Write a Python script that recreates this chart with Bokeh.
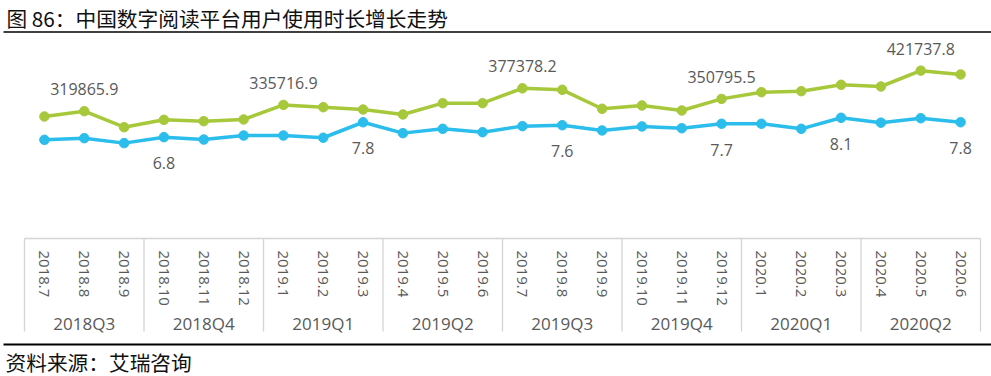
import math
from bokeh.plotting import figure
from bokeh.models import Range1d, ColumnDataSource
from bokeh.embed import file_html
from bokeh.resources import INLINE
from bokeh.core.properties import value

TITLE = "图 86：中国数字阅读平台用户使用时长增长走势"
SOURCE_NOTE = "资料来源：艾瑞咨询"

months = ["2018.7", "2018.8", "2018.9", "2018.10", "2018.11", "2018.12",
          "2019.1", "2019.2", "2019.3", "2019.4", "2019.5", "2019.6",
          "2019.7", "2019.8", "2019.9", "2019.10", "2019.11", "2019.12",
          "2020.1", "2020.2", "2020.3", "2020.4", "2020.5", "2020.6"]
quarters = ["2018Q3", "2018Q4", "2019Q1", "2019Q2",
            "2019Q3", "2019Q4", "2020Q1", "2020Q2"]

# total usage time (green) and per-capita usage (blue)
total_time = [306500, 319865.9, 279600, 298200, 294700, 299000,
              335716.9, 329900, 324100, 311600, 340000, 340000,
              377378.2, 373600, 325900, 334200, 321600, 350795.5,
              367600, 370100, 386200, 381900, 421737.8, 412100]
per_capita = [6.62, 6.73, 6.40, 6.8, 6.64, 6.91,
              6.91, 6.76, 7.8, 7.07, 7.36, 7.13,
              7.54, 7.6, 7.25, 7.52, 7.40, 7.7,
              7.70, 7.36, 8.1, 7.77, 8.07, 7.8]
total_label_idx = [1, 6, 12, 17, 22]
per_label_idx = [3, 8, 13, 17, 20, 23]

# ---- layout constants (pixels) ----
W, H = 991, 376
LEFT, RIGHT = 24, 11         # box edges inside the frame
BASE = 238                   # zero line / axis line, px from top
PLOT_H = 200                 # px from zero line to the top of value ranges
GMAX, BMAX = 502500, 13.42
BOX_BOTTOM = 331
TITLE_Y, TITLE_LINE_Y = 17, 31.5
MONTH_Y, QUARTER_Y = 250, 323
FOOT_LINE_Y, FOOT_Y = 344, 361
TEXT_X = 6

GREEN = "#a7c83a"
BLUE = "#2bbdec"
GRAY_TXT = "#595959"
SEP = "#d4d4d4"

n = len(months)
xmax = 2 * n
ppu = (W - LEFT - RIGHT) / xmax
x0, x1 = -LEFT / ppu, xmax + RIGHT / ppu

p = figure(width=W, height=H, output_backend="svg", toolbar_location=None,
           x_range=Range1d(x0, x1),
           y_range=Range1d(-(H - BASE) / PLOT_H * GMAX, BASE / PLOT_H * GMAX),
           x_axis_location=None, y_axis_location=None, min_border=0,
           outline_line_color=None)
p.extra_y_ranges = {"per": Range1d(-(H - BASE) / PLOT_H * BMAX, BASE / PLOT_H * BMAX),
                    "px": Range1d(H, 0)}
p.grid.visible = False

xs = [2 * i + 1 for i in range(n)]
qcent = [6 * k + 3 for k in range(len(quarters))]
qedge = [6 * k for k in range(len(quarters) + 1)]

# title and underline
p.text(x=[x0], y=[TITLE_Y], text=[TITLE], y_range_name="px", x_offset=TEXT_X,
       text_align="left", text_baseline="middle",
       text_font=value("Noto Sans CJK SC"), text_font_size="20.7px", text_color="#111111")
p.segment(x0=[x0 + 3 / ppu], x1=[x1], y0=[TITLE_LINE_Y], y1=[TITLE_LINE_Y], y_range_name="px",
          line_color="black", line_width=1.6)

# axis box
p.segment(x0=[0], x1=[xmax], y0=[BASE], y1=[BASE], y_range_name="px",
          line_color=SEP, line_width=1.3)
p.segment(x0=qedge, x1=qedge, y0=[BASE] * len(qedge), y1=[BOX_BOTTOM] * len(qedge),
          y_range_name="px", line_color=SEP, line_width=1.3)
p.text(x=xs, y=[MONTH_Y] * n, text=months, y_range_name="px", angle=-math.pi / 2,
       text_align="left", text_baseline="middle",
       text_font=value("Open Sans"), text_font_size="15px", text_color=GRAY_TXT)
p.text(x=qcent, y=[QUARTER_Y] * len(quarters), text=quarters, y_range_name="px",
       text_align="center", text_baseline="middle",
       text_font=value("Open Sans"), text_font_size="17px", text_color=GRAY_TXT)

# series
src = ColumnDataSource(dict(x=xs, total=total_time, per=per_capita))
p.line("x", "total", source=src, line_color=GREEN, line_width=3.5)
p.scatter("x", "total", source=src, marker="circle", size=9.5,
          fill_color=GREEN, line_color=GREEN)
p.line("x", "per", source=src, line_color=BLUE, line_width=3.5, y_range_name="per")
p.scatter("x", "per", source=src, marker="circle", size=9.5,
          fill_color=BLUE, line_color=BLUE, y_range_name="per")

tl = ColumnDataSource(dict(x=[xs[i] for i in total_label_idx],
                           y=[total_time[i] for i in total_label_idx],
                           t=["%.1f" % total_time[i] for i in total_label_idx]))
pl = ColumnDataSource(dict(x=[xs[i] for i in per_label_idx],
                           y=[per_capita[i] for i in per_label_idx],
                           t=["%.1f" % per_capita[i] for i in per_label_idx]))
p.text("x", "y", text="t", source=tl, text_align="center", text_baseline="alphabetic",
       y_offset=-22, text_font=value("Open Sans"), text_font_size="16px",
       text_color=GRAY_TXT)
p.text("x", "y", text="t", source=pl, text_align="center", text_baseline="alphabetic",
       y_offset=26, y_range_name="per", text_font=value("Open Sans"),
       text_font_size="16px", text_color=GRAY_TXT)

# footer
p.segment(x0=[x0 + 3 / ppu], x1=[x1], y0=[FOOT_LINE_Y], y1=[FOOT_LINE_Y], y_range_name="px",
          line_color="black", line_width=2)
p.text(x=[x0], y=[FOOT_Y], text=[SOURCE_NOTE], y_range_name="px", x_offset=TEXT_X - 1,
       text_align="left", text_baseline="middle",
       text_font=value("Noto Sans CJK SC"), text_font_size="20.7px", text_color="#111111")

open("out.html", "w").write(file_html(p, INLINE))
